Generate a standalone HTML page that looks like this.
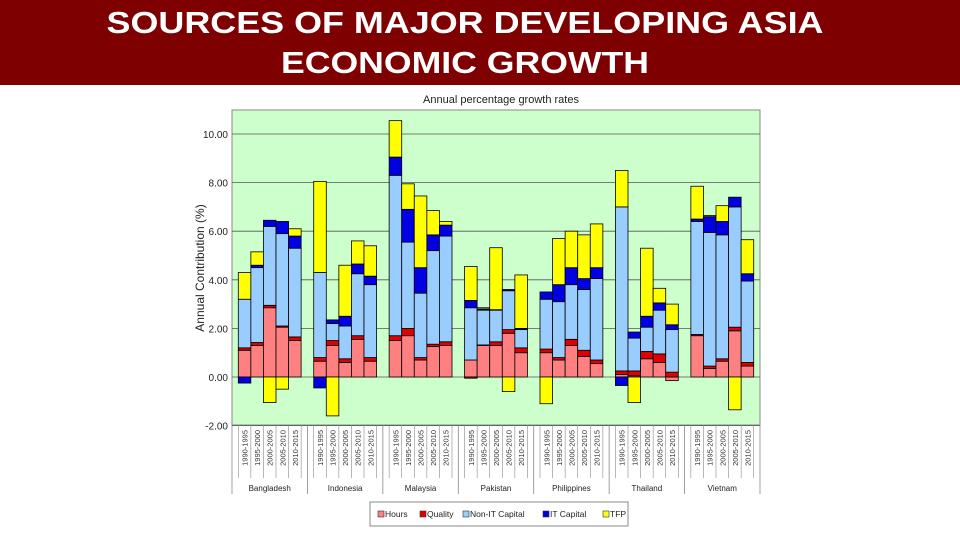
<!DOCTYPE html>
<html><head><meta charset="utf-8"><style>
html,body{margin:0;padding:0;background:#fff;}
svg{display:block;font-family:"Liberation Sans",sans-serif;}
</style></head><body>
<svg id="c" width="960" height="540" viewBox="0 0 960 540">
<rect x="0" y="0" width="960" height="85" fill="#7f0000"/>
<text x="465" y="33" text-anchor="middle" fill="#fff" font-weight="bold" font-size="31" textLength="717" lengthAdjust="spacingAndGlyphs">SOURCES OF MAJOR DEVELOPING ASIA</text>
<text x="465" y="73" text-anchor="middle" fill="#fff" font-weight="bold" font-size="31" textLength="368" lengthAdjust="spacingAndGlyphs">ECONOMIC GROWTH</text>
<text x="501" y="103" text-anchor="middle" font-size="11" fill="#222">Annual percentage growth rates</text>
<text transform="translate(204,268) rotate(-90)" text-anchor="middle" font-size="12" fill="#222">Annual Contribution (%)</text>
<g id="g"></g>
</svg>
<script>
const countries=["Bangladesh","Indonesia","Malaysia","Pakistan","Philippines","Thailand","Vietnam"];
const periods=["1990-1995","1995-2000","2000-2005","2005-2010","2010-2015"];
const seriesNames=["Hours","Quality","Non-IT Capital","IT Capital","TFP"];
const hours=[1.1,1.3,2.85,2.05,1.5, 0.65,1.3,0.6,1.55,0.65, 1.5,1.7,0.7,1.25,1.3, 0.7,1.3,1.3,1.8,1.0, 1.0,0.7,1.3,0.85,0.55, 0.1,0.05,0.75,0.6,-0.15, 1.7,0.35,0.65,1.9,0.45];
const quality=[0.1,0.12,0.1,0.05,0.15, 0.15,0.2,0.15,0.15,0.15, 0.2,0.3,0.1,0.1,0.15, -0.05,0.02,0.15,0.15,0.2, 0.15,0.1,0.25,0.25,0.15, 0.15,0.2,0.3,0.35,0.2, 0.05,0.1,0.1,0.15,0.15];
const nonIT=[2.0,3.08,3.25,3.8,3.65, 3.5,0.7,1.35,2.55,3.0, 6.6,3.55,2.65,3.85,4.35, 2.15,1.43,1.3,1.6,0.75, 2.05,2.3,2.25,2.5,3.35, 6.75,1.35,1.0,1.8,1.75, 4.65,5.5,5.1,4.95,3.35];
const itCap=[-0.25,0.1,0.25,0.5,0.5, -0.45,0.15,0.4,0.4,0.35, 0.75,1.35,1.05,0.65,0.45, 0.3,0.05,0.02,0.05,0.05, 0.3,0.7,0.7,0.45,0.45, -0.35,0.25,0.45,0.3,0.2, 0.1,0.65,0.55,0.4,0.3];
const tfp=[1.1,0.55,-1.05,-0.5,0.3, 3.75,-1.6,2.1,0.95,1.25, 1.5,1.05,2.95,1.0,0.15, 1.4,0.05,2.55,-0.6,2.2, -1.1,1.9,1.5,1.8,1.8, 1.5,-1.05,2.8,0.6,0.85, 1.35,0.05,0.65,-1.35,1.4];
const yTicks=[-2,0,2,4,6,8,10];
const colors=["#ff8080","#e00000","#99ccff","#0000e0","#ffff00"];
const NS="http://www.w3.org/2000/svg";
const g=document.getElementById('g');
const X0=232,X1=760,Ytop=110,Ybot=425;
const yScale=v=>377-v*24.3;
const slot=(X1-X0)/(countries.length*6);
const xScale=(ci,pi)=>X0+(ci*6+0.5+pi)*slot;
function mk(tag,attrs){const e=document.createElementNS(NS,tag);for(const k in attrs)e.setAttribute(k,attrs[k]);g.appendChild(e);return e;}
let e=mk('rect',{x:X0,y:Ytop,width:X1-X0,height:Ybot-Ytop,fill:"#ccffcc",stroke:"#888","stroke-width":1});


yTicks.forEach(t=>{
  const y=yScale(t);
  let l=mk('line',{x1:X0,x2:X1,y1:y,y2:y,stroke:"#555","stroke-width":0.8});
  
  
  let tx=mk('text',{x:X0-4,y:y+4,"text-anchor":"end","font-size":10,fill:"#222"});
  tx.textContent=t.toFixed(2);
  
  
});
const data=[hours,quality,nonIT,itCap,tfp];
countries.forEach((c,ci)=>{
  periods.forEach((p,pi)=>{
    const i=ci*5+pi;let pos=0,neg=0;const x=xScale(ci,pi);
    data.forEach((arr,si)=>{
      const v=arr[i];let a,b;
      if(v>=0){a=pos;b=pos+v;pos=b;}else{a=neg+v;b=neg;neg=a;}
      let r=mk('rect',{x:x,width:slot,y:yScale(b),height:Math.max(0,yScale(a)-yScale(b)),fill:colors[si],stroke:"#000","stroke-width":0.8});
      
      
    });
    let tx=mk('text',{transform:`translate(${x+slot/2+3},${Ybot+5}) rotate(-90)`,"text-anchor":"end","font-size":7.5,fill:"#333"});
    tx.textContent=p;
    
    
    let l=mk('line',{x1:x+slot,x2:x+slot,y1:Ybot,y2:Ybot+53,stroke:"#888","stroke-width":0.6});
    
    
    if(pi==0){let l2=mk('line',{x1:x,x2:x,y1:Ybot,y2:Ybot+53,stroke:"#888","stroke-width":0.6});
      
      }
  });
  let cx=xScale(ci,2.5);
  let ct=mk('text',{x:cx,y:491,"text-anchor":"middle","font-size":8,fill:"#222"});
  ct.textContent=c;
  
  
  let gl=mk('line',{x1:X0+ci*6*slot,x2:X0+ci*6*slot,y1:Ybot,y2:494,stroke:"#888","stroke-width":0.8});
  
  
});
let gl=mk('line',{x1:X1,x2:X1,y1:Ybot,y2:494,stroke:"#888","stroke-width":0.8});


let lg=mk('rect',{x:370,y:502,width:258,height:24,fill:"#fff",stroke:"#888","stroke-width":1});


const lx=[378,420,463,543,603];
seriesNames.forEach((s,si)=>{
  let r=mk('rect',{x:lx[si],y:511,width:6,height:6,fill:colors[si],stroke:"#333","stroke-width":0.6});
  
  
  let t=mk('text',{x:lx[si]+7,y:517,"font-size":8.5,fill:"#222"});
  t.textContent=s;
  
  
});
</script>
</body></html>
